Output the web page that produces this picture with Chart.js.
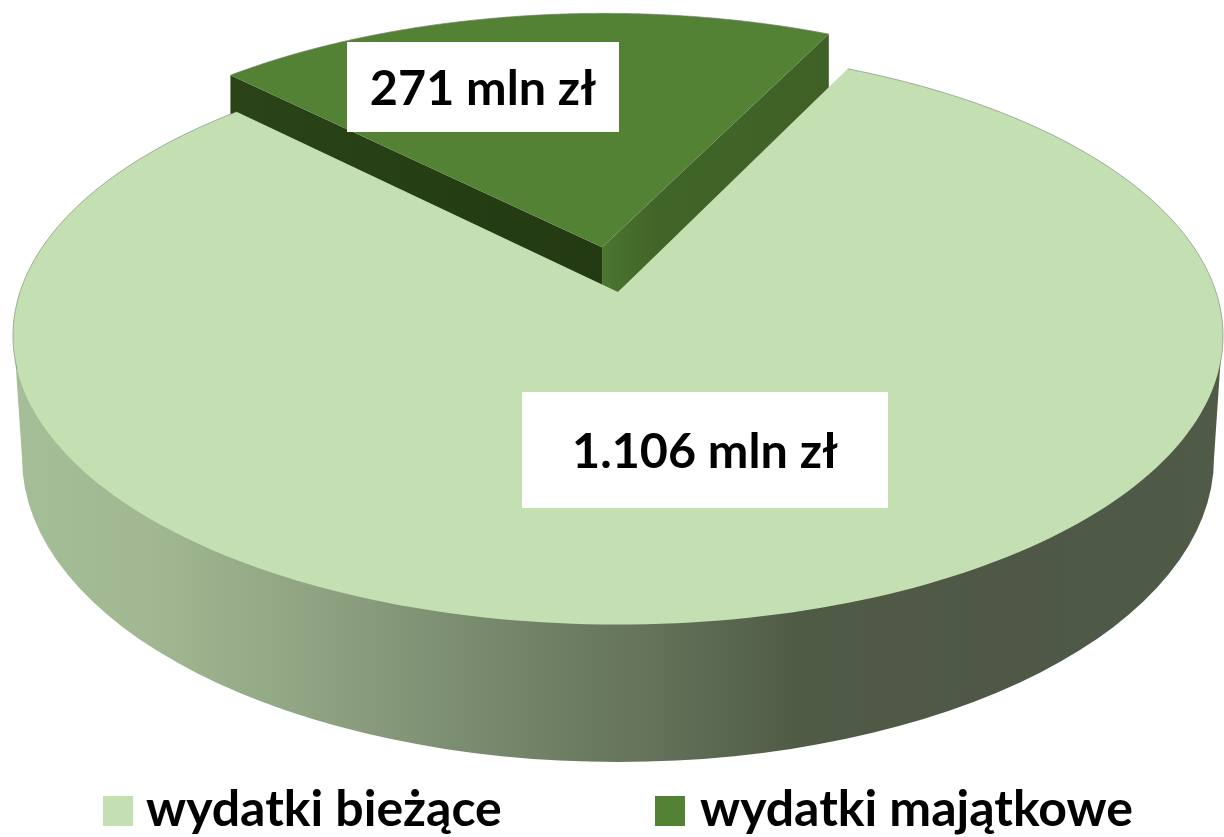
<!DOCTYPE html>
<html lang="pl"><head><meta charset="utf-8">
<style>html,body{margin:0;padding:0;background:#fff}canvas{display:block}</style>
<script src="https://cdn.jsdelivr.net/npm/chart.js@4"></script>
</head><body><canvas id="c" width="1224" height="837"></canvas>
<script>
const categories = ['wydatki bieżące', 'wydatki majątkowe'];
const values = [1106, 271];
const unit = 'mln zł';
const topColors = ['#C4DFB2', '#548235'];
const explode = [0, 0.165];
const startRotation = 25.9;

// view: perspective image of the pie's plane
const view = {cx: 618, cy: 292, R: 598, B: 282, k: 0.152};
const base = {cx: 618, cy: 458, rx: 596, ry: 304, topY: 340, topInset: 14};
const wedgeWall = 60;
const labelBoxes = [
  {x: 522, y: 392, w: 366, h: 116},
  {x: 347, y: 42, w: 272, h: 90}
];
const legendSlots = [{box: 103, text: 146}, {box: 655, text: 700}];
const wallStops = [
  [0, '#A6BE97'], [0.115, '#A0B791'], [0.247, '#8FA382'], [0.346, '#7F9174'],
  [0.478, '#6A7A60'], [0.52, '#65745B'], [0.586, '#5A6751'], [0.651, '#505B46'],
  [0.818, '#4F5847'], [1, '#4F5A47']
];
const FONT = 'Lato, Carlito, "Open Sans", sans-serif';

function project(u, v) {
  const w = 1 + view.k * v;
  return [view.cx + view.R * u / w, view.cy - view.B * v / w];
}
function arcPoints(a0, a1, off) {
  const mid = (a0 + a1) / 2, du = off * Math.cos(mid), dv = -off * Math.sin(mid);
  const pts = [];
  for (let i = 0; i <= 240; i++) {
    const a = a0 + (a1 - a0) * i / 240;
    pts.push(project(du + Math.cos(a), dv - Math.sin(a)));
  }
  return {pts, apex: project(du, dv)};
}
function poly(ctx, pts) {
  ctx.beginPath();
  pts.forEach((p, i) => i ? ctx.lineTo(p[0], p[1]) : ctx.moveTo(p[0], p[1]));
  ctx.closePath();
}
function strokeWhere(ctx, pts, test) {
  ctx.beginPath();
  let pen = false;
  pts.forEach(p => {
    if (!test(p)) { pen = false; return; }
    if (pen) ctx.lineTo(p[0], p[1]); else ctx.moveTo(p[0], p[1]);
    pen = true;
  });
  ctx.stroke();
}
function fmt(v) { return String(v).replace(/\B(?=(\d{3})+$)/g, '.') + ' ' + unit; }

const pie3d = {
  id: 'pie3d',
  beforeDatasetsDraw(chart) {
    const ctx = chart.ctx, arcs = chart.getDatasetMeta(0).data;
    ctx.save();
    // exploded wedge
    const wA = arcs[1], w = arcPoints(wA.startAngle, wA.endAngle, explode[1]);
    const first = w.pts[0], last = w.pts[w.pts.length - 1];
    let g = ctx.createLinearGradient(first[0], 0, w.apex[0], 0);
    g.addColorStop(0, '#2A4317'); g.addColorStop(1, '#233A12');
    ctx.fillStyle = g;
    poly(ctx, [first, w.apex, [w.apex[0], w.apex[1] + wedgeWall], [first[0], first[1] + wedgeWall]]);
    ctx.fill();
    g = ctx.createLinearGradient(w.apex[0], 0, last[0], 0);
    g.addColorStop(0, '#4B7530'); g.addColorStop(0.25, '#416428'); g.addColorStop(1, '#3F6126');
    ctx.fillStyle = g;
    poly(ctx, [w.apex, last, [last[0], last[1] + wedgeWall], [w.apex[0], w.apex[1] + wedgeWall]]);
    ctx.fill();
    ctx.fillStyle = topColors[1];
    poly(ctx, [w.apex, ...w.pts]);
    ctx.fill();
    ctx.strokeStyle = 'rgba(120,125,115,0.7)'; ctx.lineWidth = 1;
    strokeWhere(ctx, w.pts, () => true);

    // main slice wall
    g = ctx.createLinearGradient(20, 0, 1218, 0);
    wallStops.forEach(s => g.addColorStop(s[0], s[1]));
    ctx.fillStyle = g;
    ctx.beginPath();
    ctx.moveTo(base.topInset, base.topY);
    ctx.ellipse(base.cx, base.cy, base.rx, base.ry, 0, Math.PI, 0, true);
    ctx.lineTo(chart.width - base.topInset + 12, base.topY);
    ctx.closePath();
    ctx.fill();

    // main slice top
    const mA = arcs[0], m = arcPoints(mA.startAngle, mA.endAngle, explode[0]);
    ctx.fillStyle = topColors[0];
    poly(ctx, [m.apex, ...m.pts]);
    ctx.fill();
    ctx.strokeStyle = 'rgba(120,130,115,0.6)';
    strokeWhere(ctx, m.pts, p => p[1] < 375);
    ctx.restore();
    return false;
  },
  afterDraw(chart) {
    const ctx = chart.ctx;
    ctx.save();
    // value labels
    ctx.textAlign = 'center'; ctx.textBaseline = 'alphabetic';
    ctx.font = 'bold 48.5px ' + FONT;
    values.forEach((v, i) => {
      const b = labelBoxes[i];
      ctx.fillStyle = '#fff'; ctx.fillRect(b.x, b.y, b.w, b.h);
      ctx.fillStyle = '#000'; ctx.fillText(fmt(v), b.x + b.w / 2, b.y + b.h / 2 + 18);
    });
    // legend
    ctx.textAlign = 'left';
    ctx.font = 'bold 50px ' + FONT;
    categories.forEach((c, i) => {
      const s = legendSlots[i];
      ctx.fillStyle = topColors[i]; ctx.fillRect(s.box, 796, 30, 30);
      ctx.fillStyle = '#000'; ctx.fillText(c, s.text, 826);
    });
    ctx.restore();
  }
};

new Chart(document.getElementById('c'), {
  type: 'pie',
  data: {labels: categories, datasets: [{data: values, backgroundColor: topColors, borderWidth: 0}]},
  options: {
    responsive: false, animation: false, rotation: startRotation,
    events: [],
    plugins: {legend: {display: false}, tooltip: {enabled: false}, title: {display: false}}
  },
  plugins: [pie3d]
});
</script></body></html>
